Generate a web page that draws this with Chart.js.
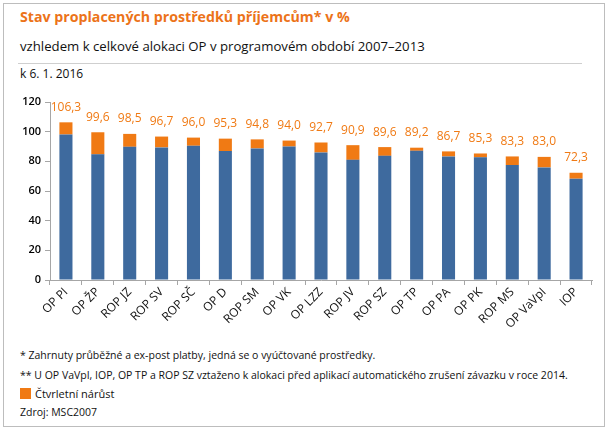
<!DOCTYPE html>
<html>
<head>
<meta charset="utf-8">
<script src="https://cdn.jsdelivr.net/npm/chart.js@4.4.1/dist/chart.umd.min.js"></script>
<style>
  html, body { margin: 0; padding: 0; background: #fff; }
  body { width: 610px; height: 431px; position: relative; overflow: hidden; font-family: 'Open Sans', sans-serif; color: #111; }
  .frame { position: absolute; left: 3px; top: 3px; width: 602px; height: 424px; border: 1px solid #bdbdbd; box-sizing: border-box; }
  .txt { position: absolute; left: 20px; white-space: nowrap; line-height: 1; }
  #title { top: 10px; font-size: 14.2px; font-weight: 700; color: #ec7319; }
  #subtitle { top: 40px; font-size: 13.2px; }
  #sep { position: absolute; left: 18px; top: 63px; width: 564px; height: 1px; background: #cfcfcf; }
  #date { top: 68px; font-size: 12px; }
  .note { font-size: 10.5px; }
  #legend { top: 388px; font-size: 11px; display: flex; align-items: center; }
  #legend span.box { display: inline-block; width: 11px; height: 11px; background: #f07a14; margin-right: 4px; }
  #chartWrap { position: absolute; left: 0; top: 90px; width: 610px; height: 255px; }
</style>
</head>
<body>
<div class="frame"></div>
<div class="txt" id="title">Stav proplacených prostředků příjemcům* v %</div>
<div class="txt" id="subtitle">vzhledem k celkové alokaci OP v programovém období 2007–2013</div>
<div id="sep"></div>
<div class="txt" id="date">k 6. 1. 2016</div>
<div id="chartWrap"><canvas id="chart"></canvas></div>
<div class="txt note" style="top:350px">* Zahrnuty průběžné a ex-post platby, jedná se o vyúčtované prostředky.</div>
<div class="txt note" style="top:370px">** U OP VaVpI, IOP, OP TP a ROP SZ vztaženo k alokaci před aplikací automatického zrušení závazku v roce 2014.</div>
<div class="txt" id="legend"><span class="box"></span>Čtvrletní nárůst</div>
<div class="txt note" style="top:407px">Zdroj: MSC2007</div>

<script>
// Data
const categories = ['OP PI', 'OP ŽP', 'ROP JZ', 'ROP SV', 'ROP SČ', 'OP D', 'ROP SM', 'OP VK', 'OP LZZ',
    'ROP JV', 'ROP SZ', 'OP TP', 'OP PA', 'OP PK', 'ROP MS', 'OP VaVpI', 'IOP'];
const previousState = [98.1, 84.7, 89.8, 89.4, 90.5, 86.9, 88.7, 90.0, 86.0, 81.0, 83.7, 87.1, 83.3, 82.7, 77.5, 75.9, 68.3];
const quarterGrowth = [8.2, 14.9, 8.7, 7.3, 5.5, 8.4, 6.1, 4.0, 6.7, 9.9, 5.9, 2.1, 3.4, 2.6, 5.8, 7.1, 4.0];
const totalLabels = ['106,3', '99,6', '98,5', '96,7', '96,0', '95,3', '94,8', '94,0', '92,7',
    '90,9', '89,6', '89,2', '86,7', '85,3', '83,3', '83,0', '72,3'];
const yTicks = [0, 20, 40, 60, 80, 100, 120];

const BLUE = '#3e6a9e';
const ORANGE = '#f07a14';
const AXIS = '#a6a6a6';

// Totals above each stacked bar
const totalLabelPlugin = {
    id: 'totalLabelPlugin',
    afterDatasetsDraw(chart) {
        const ctx = chart.ctx;
        const meta = chart.getDatasetMeta(1);
        ctx.save();
        ctx.font = "12px 'Open Sans', sans-serif";
        ctx.fillStyle = ORANGE;
        ctx.textAlign = 'center';
        ctx.textBaseline = 'middle';
        meta.data.forEach((bar, i) => {
            ctx.fillText(totalLabels[i], bar.x, bar.y - 15);
        });
        ctx.restore();
    }
};

new Chart(document.getElementById('chart'), {
    type: 'bar',
    data: {
        labels: categories,
        datasets: [
            {
                label: 'Stav',
                data: previousState,
                backgroundColor: BLUE,
                barPercentage: 0.82,
                categoryPercentage: 0.5
            },
            {
                label: 'Čtvrletní nárůst',
                data: quarterGrowth,
                backgroundColor: ORANGE,
                barPercentage: 0.82,
                categoryPercentage: 0.5
            }
        ]
    },
    options: {
        responsive: true,
        maintainAspectRatio: false,
        animation: false,
        layout: { padding: { top: 12, right: 18, left: 0, bottom: 0 } },
        plugins: {
            legend: { display: false },
            tooltip: { enabled: false }
        },
        scales: {
            x: {
                stacked: true,
                afterFit(scale) { scale.height = 65; },
                grid: { display: true, drawOnChartArea: false, color: AXIS, tickLength: 5, offset: true },
                border: { color: AXIS },
                ticks: {
                    color: '#111',
                    font: { family: "'Open Sans', sans-serif", size: 12 },
                    maxRotation: 45,
                    minRotation: 45,
                    autoSkip: false,
                    padding: 0
                }
            },
            y: {
                stacked: true,
                min: 0,
                max: 120,
                afterFit(scale) { scale.width = 50; },
                afterBuildTicks(scale) { scale.ticks = yTicks.map(v => ({ value: v })); },
                grid: { display: true, drawOnChartArea: false, color: AXIS, tickLength: 5 },
                border: { color: AXIS },
                ticks: {
                    color: '#000',
                    font: { family: "'Open Sans', sans-serif", size: 11, weight: '600' },
                    padding: 4
                }
            }
        }
    },
    plugins: [totalLabelPlugin]
});
</script>
</body>
</html>
